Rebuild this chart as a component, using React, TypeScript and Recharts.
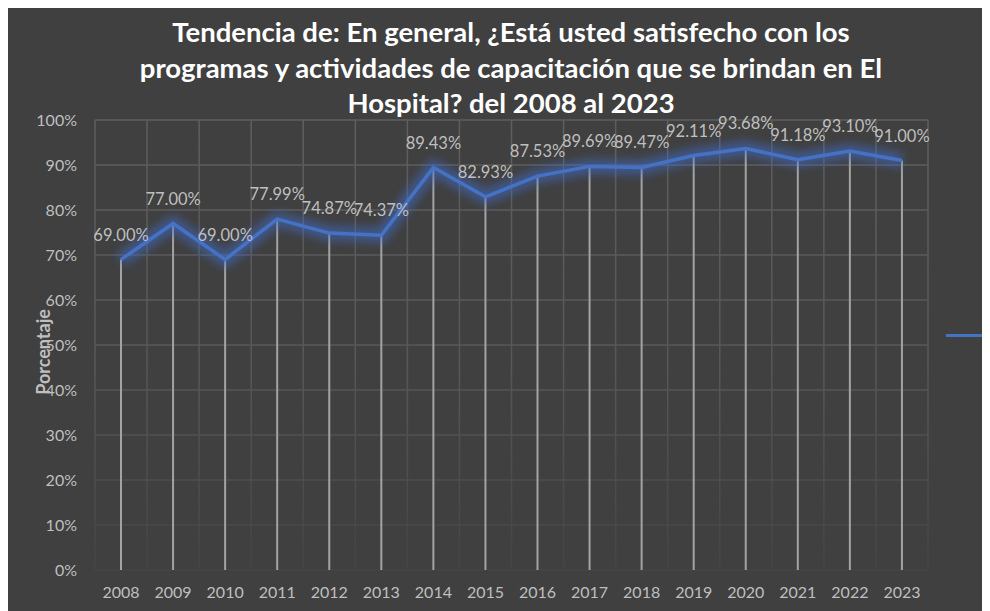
import React from 'react';
import { ComposedChart, Line, Bar, XAxis, YAxis, CartesianGrid, LabelList, Legend } from 'recharts';

const years = ['2008','2009','2010','2011','2012','2013','2014','2015','2016','2017','2018','2019','2020','2021','2022','2023'];
const values = [69.0, 77.0, 69.0, 77.99, 74.87, 74.37, 89.43, 82.93, 87.53, 89.69, 89.47, 92.11, 93.68, 91.18, 93.1, 91.0];
const yTicks = [0, 10, 20, 30, 40, 50, 60, 70, 80, 90, 100];
const titleLines = [
  'Tendencia de: En general, ¿Está usted satisfecho con los',
  'programas y actividades de capacitación que se brindan en El',
  'Hospital? del 2008 al 2023',
];
const seriesName = 'Porcentaje';

const data = years.map((y, i) => ({ year: y, value: values[i] }));

const W = 982;
const H = 603;
const FONT = 'Lato, "Open Sans", sans-serif';

export default function App() {
  return (
    <div style={{ position: 'relative', width: W, height: H, background: '#404040', fontFamily: FONT }}>
      <div
        style={{
          position: 'absolute', left: 3, top: 6, width: 1000, textAlign: 'center',
          color: '#ffffff', fontWeight: 700, fontSize: 27.5, lineHeight: '35.5px', zIndex: 2,
        }}
      >
        {titleLines.map((t, i) => (<div key={i}>{t}</div>))}
      </div>
      <div
        style={{
          position: 'absolute', left: 35 - 60, top: 344 - 12, width: 120, height: 24,
          textAlign: 'center', transform: 'rotate(-90deg)', color: '#bfbfbf',
          fontWeight: 700, fontSize: 18, lineHeight: '24px', zIndex: 2,
        }}
      >
        {seriesName}
      </div>
      <ComposedChart width={W} height={H} data={data} margin={{ top: 112, right: 62, bottom: 1, left: 27 }}>
        <defs>
          <linearGradient id="gridFade" gradientUnits="userSpaceOnUse" x1="0" y1="112" x2="0" y2="562">
            <stop offset="0%" stopColor="#5e5e5e" />
            <stop offset="55%" stopColor="#575757" />
            <stop offset="100%" stopColor="#444444" />
          </linearGradient>
          <filter id="glow" x="-20%" y="-80%" width="140%" height="260%">
            <feGaussianBlur stdDeviation="5" />
          </filter>
        </defs>
        <CartesianGrid
          stroke="url(#gridFade)"
          strokeWidth={1.5}
          verticalCoordinatesGenerator={({ offset }: any) => {
            const n = years.length;
            const out: number[] = [];
            for (let i = 0; i <= n; i++) out.push(offset.left + (i * offset.width) / n);
            return out;
          }}
        />
        <XAxis
          dataKey="year"
          axisLine={false}
          tickLine={false}
          tickSize={0}
          tickMargin={17}
          height={40}
          interval={0}
          tick={{ fill: '#bfbfbf', fontSize: 16, fontFamily: FONT }}
        />
        <YAxis
          type="number"
          domain={[0, 100]}
          ticks={yTicks}
          width={60}
          axisLine={false}
          tickLine={false}
          tickSize={0}
          tickMargin={18}
          interval={0}
          tickFormatter={(v: number) => `${v}%`}
          tick={{ fill: '#bfbfbf', fontSize: 16, fontFamily: FONT }}
        />
        <Bar dataKey="value" barSize={2} fill="#a3a3a3" isAnimationActive={false} legendType="none" />
        <Line
          dataKey="value"
          stroke="#3f6bd0"
          strokeWidth={14}
          strokeOpacity={0.55}
          filter="url(#glow)"
          dot={false}
          activeDot={false}
          isAnimationActive={false}
          legendType="none"
        />
        <Line
          dataKey="value"
          name={seriesName}
          stroke="#4472C4"
          strokeWidth={3.5}
          dot={false}
          activeDot={false}
          isAnimationActive={false}
        >
          <LabelList
            dataKey="value"
            position="top"
            offset={19}
            formatter={(v: any) => `${Number(v).toFixed(2)}%`}
            style={{ fill: '#bfbfbf', fontSize: 16.5, fontFamily: FONT }}
          />
        </Line>
        <Legend
          layout="vertical"
          align="center"
          verticalAlign="middle"
          wrapperStyle={{ position: 'absolute', left: 938, top: 322, width: 60, height: 10 }}
          content={() => (
            <div style={{ width: 60, height: 10, position: 'relative' }}>
              <div style={{ position: 'absolute', left: 0, top: 4, width: 60, height: 3, background: '#4472C4' }} />
            </div>
          )}
        />
      </ComposedChart>
    </div>
  );
}
